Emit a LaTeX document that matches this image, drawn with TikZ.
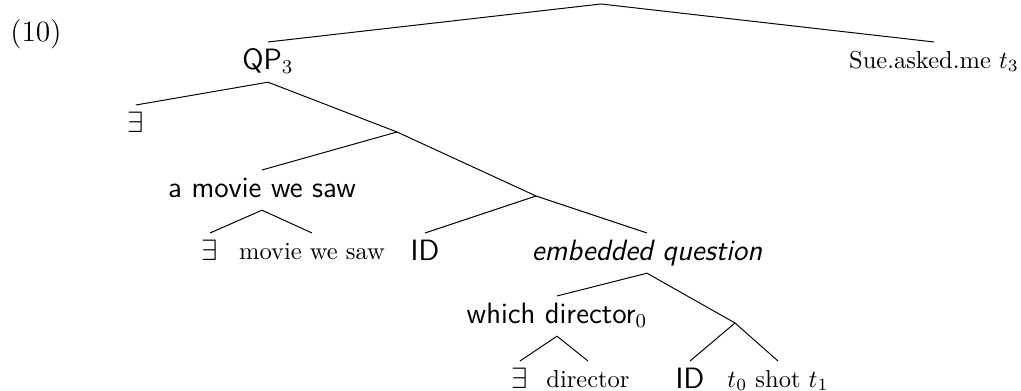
\documentclass[tikz,border=0pt]{standalone}
\usetikzlibrary{positioning}

\begin{document}
\begin{tikzpicture}[x=0.408pt, y=-0.408pt, every node/.style={font=\normalsize}]
  % Styles
  \tikzset{
    lbl/.style={anchor=north, inner xsep=0pt, inner ysep=3.5pt, text height=7pt, text depth=2pt},
    sans/.style={lbl, inner ysep=3pt, text height=8pt, font=\large\sffamily},
    branch/.style={thin}
  }
  \useasboundingbox (0,0) rectangle (1021,391);

  % Example number
  \node[font=\large] (num) at (36,34) {(10)};

  % Branch points
  \coordinate (root) at (601,4);
  \coordinate (qpright) at (397,132);
  \coordinate (qpinner) at (536,196);
  \coordinate (eqright) at (735,323);

  % Nodes
  \node[sans] (qp) at (268,42) {QP$_3$};
  \node[lbl] (sue) at (934,42) {Sue.asked.me $t_3$};
  \node[sans] (ex1) at (136,105) {$\exists$};
  \node[sans] (movie) at (262,170) {a movie we saw};
  \node[sans] (ex2) at (210,233) {$\exists$};
  \node[lbl] (moviews) at (312,233) {movie we saw};
  \node[sans] (id1) at (425,233) {ID};
  \node[sans, font=\large\sffamily\itshape] (eq) at (647,233) {embedded question};
  \node[sans] (which) at (557,296) {which director$_0$};
  \node[sans] (ex3) at (520,361) {$\exists$};
  \node[lbl] (dir) at (588,361) {director};
  \node[sans] (id2) at (690,361) {ID};
  \node[lbl] (shot) at (778,361) {$t_0$ shot $t_1$};

  % Branches
  \draw[branch] (qp.north) -- (root) -- (sue.north);
  \draw[branch] (ex1.north) -- (qp.south) -- (qpright);
  \draw[branch] (movie.north) -- (qpright) -- (qpinner);
  \draw[branch] (ex2.north) -- (movie.south) -- (moviews.north);
  \draw[branch] (id1.north) -- (qpinner) -- (eq.north);
  \draw[branch] (which.north) -- (eq.south) -- (eqright);
  \draw[branch] (ex3.north) -- (which.south) -- (dir.north);
  \draw[branch] (id2.north) -- (eqright) -- (shot.north);
\end{tikzpicture}
\end{document}
